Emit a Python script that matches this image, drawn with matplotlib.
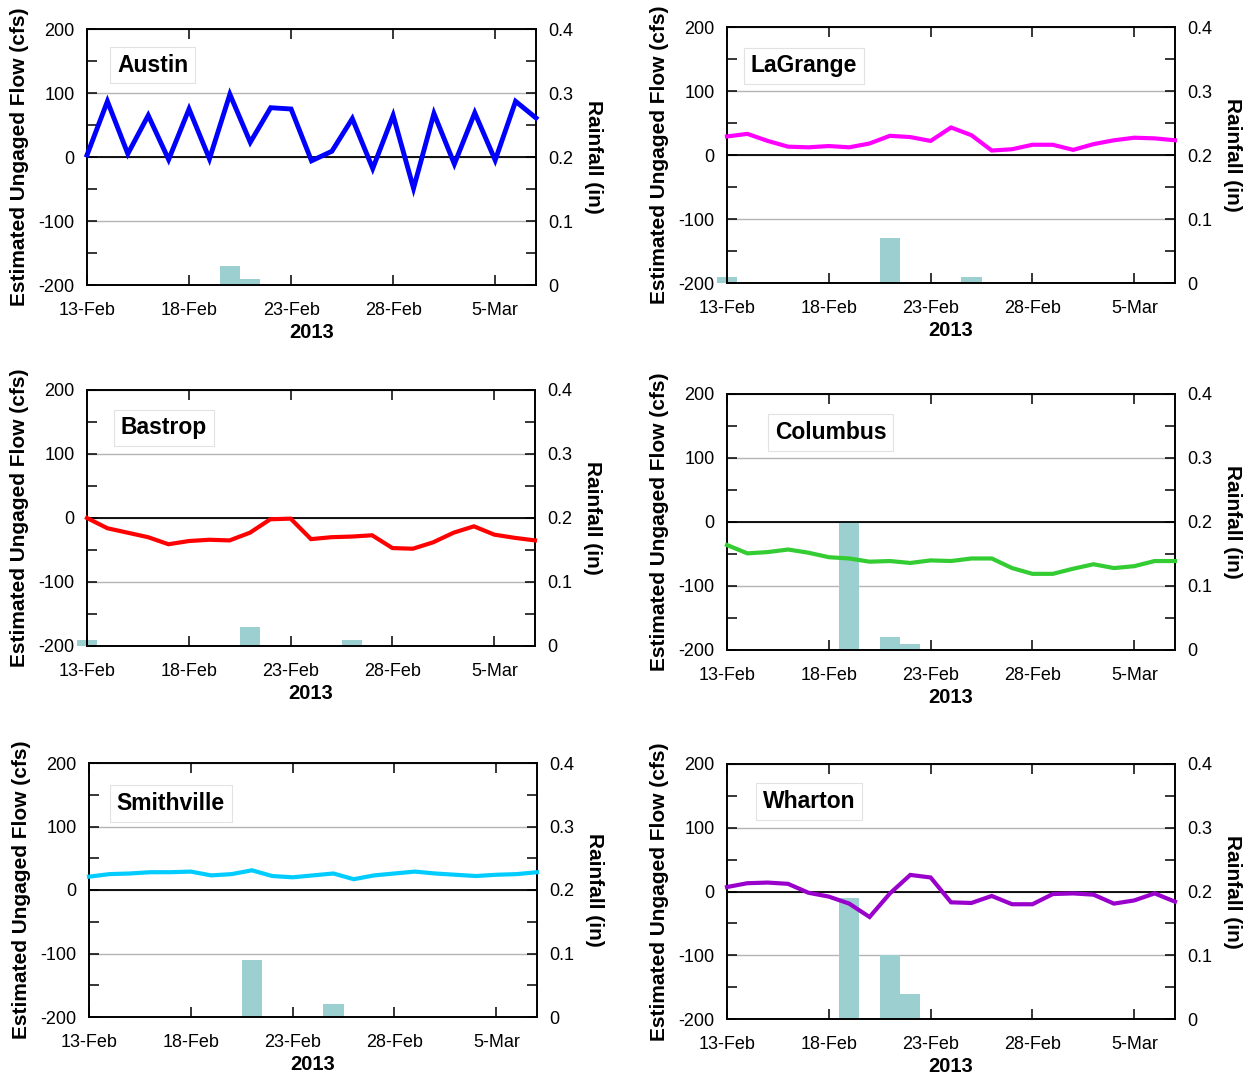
import datetime as dt
import matplotlib

matplotlib.use("Agg")
import matplotlib.pyplot as plt
from matplotlib.ticker import MultipleLocator

plt.rcParams["font.family"] = ["Liberation Sans", "DejaVu Sans"]
plt.rcParams["axes.unicode_minus"] = False

# daily values, 13-Feb-2013 .. 7-Mar-2013
days = [dt.date(2013, 2, 13) + dt.timedelta(days=i) for i in range(23)]
tick_dates = [dt.date(2013, 2, 13), dt.date(2013, 2, 18), dt.date(2013, 2, 23),
              dt.date(2013, 2, 28), dt.date(2013, 3, 5)]
tick_labels = ["13-Feb", "18-Feb", "23-Feb", "28-Feb", "5-Mar"]

stations = ["Austin", "LaGrange", "Bastrop", "Columbus", "Smithville", "Wharton"]

austin_flow = [3, 87, 5, 65, -4, 75, -3, 98, 23, 77, 75, -6, 9, 60, -18, 65,
               -49, 68, -11, 69, -5, 87, 61]
lagrange_flow = [29, 33, 22, 13, 12, 14, 12, 18, 30, 28, 22, 43, 31, 7, 9, 16,
                 16, 8, 17, 23, 27, 26, 23]
bastrop_flow = [0, -16, -23, -30, -41, -36, -34, -35, -23, -2, -1, -33, -30,
                -29, -27, -47, -48, -38, -23, -13, -26, -31, -35]
columbus_flow = [-36, -49, -47, -43, -48, -55, -57, -62, -61, -64, -60, -61,
                 -57, -57, -72, -81, -81, -73, -66, -72, -69, -61, -61]
smithville_flow = [21, 25, 26, 28, 28, 29, 23, 25, 31, 22, 20, 23, 26, 17, 23,
                   26, 29, 26, 24, 22, 24, 25, 28]
wharton_flow = [7, 13, 14, 12, -2, -8, -19, -40, -3, 26, 22, -17, -18, -7, -20,
                -20, -4, -3, -5, -19, -14, -3, -16]

austin_rain = [0, 0, 0, 0, 0, 0, 0, 0.03, 0.01, 0, 0, 0, 0, 0, 0, 0, 0, 0, 0, 0, 0, 0, 0]
lagrange_rain = [0.01, 0, 0, 0, 0, 0, 0, 0, 0.07, 0, 0, 0, 0.01, 0, 0, 0, 0, 0, 0, 0, 0, 0, 0]
bastrop_rain = [0.01, 0, 0, 0, 0, 0, 0, 0, 0.03, 0, 0, 0, 0, 0.01, 0, 0, 0, 0, 0, 0, 0, 0, 0]
columbus_rain = [0, 0, 0, 0, 0, 0, 0.20, 0, 0.02, 0.01, 0, 0, 0, 0, 0, 0, 0, 0, 0, 0, 0, 0, 0]
smithville_rain = [0, 0, 0, 0, 0, 0, 0, 0, 0.09, 0, 0, 0, 0.02, 0, 0, 0, 0, 0, 0, 0, 0, 0, 0]
wharton_rain = [0, 0, 0, 0, 0, 0, 0.19, 0, 0.10, 0.04, 0, 0, 0, 0, 0, 0, 0, 0, 0, 0, 0, 0, 0]

flows = [austin_flow, lagrange_flow, bastrop_flow, columbus_flow, smithville_flow, wharton_flow]
rains = [austin_rain, lagrange_rain, bastrop_rain, columbus_rain, smithville_rain, wharton_rain]
colors = ["#0000ff", "#ff00ff", "#ff0000", "#33cc33", "#00ccff", "#9900cc"]
line_widths = [3.5, 3.0, 3.0, 3.0, 3.0, 3.0]

W, H = 1248, 1078
# axes boxes in pixels: left, top, right, bottom
boxes = [
    (87, 29, 536, 285),
    (727, 27, 1175, 283),
    (87, 390, 535, 646),
    (727, 394, 1175, 650),
    (89, 763, 537, 1017),
    (727, 764, 1175, 1019),
]
title_pos = [(0.067, 0.859), (0.053, 0.848), (0.075, 0.852),
             (0.107, 0.849), (0.062, 0.841), (0.080, 0.852)]

fig = plt.figure(figsize=(W / 100, H / 100), dpi=100)

for name, flow, rain, color, lw, box, tpos in zip(
        stations, flows, rains, colors, line_widths, boxes, title_pos):
    l, t, r, b = box
    ax = fig.add_axes([l / W, 1 - b / H, (r - l) / W, (b - t) / H])
    ax2 = ax.twinx()
    ax.set_zorder(ax2.get_zorder() + 1)
    ax.patch.set_visible(False)

    # rainfall bars (behind) with gray grid
    ax2.bar(days, rain, width=1.0, color="#9ccfcf", zorder=2, clip_on=False)
    ax2.set_ylim(0, 0.4)
    ax2.yaxis.set_minor_locator(MultipleLocator(0.05))
    ax2.set_yticks([0, 0.1, 0.2, 0.3, 0.4], ["0", "0.1", "0.2", "0.3", "0.4"])
    ax2.grid(axis="y", color="#b4b4b4", linewidth=1.0, zorder=0)
    ax2.set_axisbelow(True)
    ax2.tick_params(axis="y", which="both", direction="in", length=7, width=1.1,
                    labelsize=13, pad=8.5, right=True, left=False)
    ax2.set_ylabel("Rainfall (in)", rotation=270, va="bottom", fontsize=15,
                   fontweight="bold", labelpad=8)

    # flow line
    ax.axhline(0, color="black", linewidth=1.3, zorder=1)
    ax.plot(days, flow, color=color, linewidth=lw, zorder=3,
            solid_joinstyle="miter", clip_on=False)
    ax.set_ylim(-200, 200)
    ax.yaxis.set_major_locator(MultipleLocator(100))
    ax.yaxis.set_minor_locator(MultipleLocator(50))
    ax.set_xlim(days[0], days[-1])
    ax.set_xticks(tick_dates, tick_labels)
    ax.tick_params(axis="y", which="both", direction="in", length=7, width=1.1,
                   labelsize=13, pad=9, left=True, right=False)
    ax.tick_params(axis="x", which="both", direction="in", length=7, width=1.1,
                   labelsize=13, pad=12, top=True, bottom=True)
    ax.set_ylabel("Estimated Ungaged Flow (cfs)", fontsize=15, fontweight="bold",
                  labelpad=7)
    ax.set_xlabel("2013", fontsize=14.5, fontweight="bold", labelpad=3)

    for a in (ax, ax2):
        for sp in a.spines.values():
            sp.set_linewidth(1.2)

    ax.text(tpos[0], tpos[1], name, transform=ax.transAxes, fontsize=16.5,
            fontweight="bold", va="center", ha="left", zorder=5,
            bbox=dict(boxstyle="square,pad=0.3", facecolor="white",
                      edgecolor="#e2e2e2", linewidth=0.8))

fig.savefig("out.png", dpi=100, facecolor="white")
